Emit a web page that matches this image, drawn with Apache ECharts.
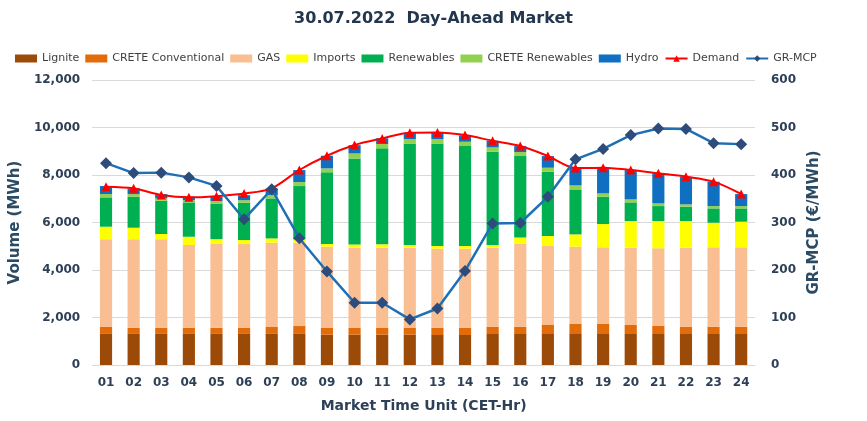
<!DOCTYPE html>
<html><head><meta charset="utf-8">
<script src="https://cdn.jsdelivr.net/npm/echarts@6/dist/echarts.min.js"></script>
<style>html,body{margin:0;padding:0;background:#fff}#c{width:867px;height:421px}</style>
</head><body><div id="c"></div>
<script>
const hours = ['01','02','03','04','05','06','07','08','09','10','11','12','13','14','15','16','17','18','19','20','21','22','23','24'];
const lignite = [1310,1310,1310,1310,1310,1310,1310,1310,1277,1277,1277,1277,1263,1263,1305,1305,1305,1305,1305,1305,1305,1305,1305,1305];
const creteConv = [290,260,260,260,260,260,290,330,295,295,295,295,308,308,308,308,379,421,421,379,351,308,308,308];
const gas = [3690,3720,3720,3480,3550,3520,3550,3510,3410,3380,3370,3368,3326,3326,3326,3508,3325,3254,3227,3255,3255,3326,3340,3340];
const imports = [533,490,225,350,180,170,180,140,113,126,140,112,112,112,112,252,421,520,982,1122,1150,1122,1038,1080];
const renewables = [1235,1305,1400,1445,1500,1570,1685,2245,3016,3620,4041,4279,4321,4209,3928,3424,2707,1894,1150,786,631,603,603,561];
const creteRen = [140,112,100,100,100,110,140,168,168,210,182,182,182,182,183,168,169,168,141,126,113,99,98,98];
const hydro = [337,240,180,140,180,210,280,505,533,350,238,260,270,270,280,250,490,740,1080,1234,1262,1164,1025,505];
const demand = [7510,7440,7160,7060,7110,7220,7440,8210,8810,9260,9540,9780,9790,9680,9440,9220,8800,8290,8310,8210,8070,7930,7720,7200];
const mcp = [425,404,405,395,377,307,370,267,197,131,131,96,119,198,298,299,354,433,455,484,498,497,467,465];

const txt = '#2E4057';
const font = '"DejaVu Sans", sans-serif';
function bar(name, data, color) {
  return {name, type:'bar', stack:'v', data, barWidth:'44%', itemStyle:{color}};
}
const chart = echarts.init(document.getElementById('c'));
chart.setOption({
  animation:false,
  title:{text:'30.07.2022  Day-Ahead Market', left:'center', top:6,
    textStyle:{fontFamily:font, fontWeight:'bold', fontSize:16, color:'#22364D'}},
  legend:{top:48, left:10, itemWidth:22, itemHeight:8, itemGap:6,
    textStyle:{fontFamily:font, fontSize:11, color:'#404040'},
    data:[
      {name:'Lignite', icon:'rect'},{name:'CRETE Conventional', icon:'rect'},{name:'GAS', icon:'rect'},
      {name:'Imports', icon:'rect'},{name:'Renewables', icon:'rect'},{name:'CRETE Renewables', icon:'rect'},
      {name:'Hydro', icon:'rect'},'Demand','GR-MCP']},
  grid:{left:89, right:112, top:80, bottom:56},
  xAxis:{type:'category', data:hours,
    axisLine:{show:true, lineStyle:{color:'#D9D9D9'}}, axisTick:{show:false},
    axisLabel:{fontFamily:font, fontWeight:'bold', fontSize:12, color:txt, margin:12},
    name:'Market Time Unit (CET-Hr)', nameLocation:'middle', nameGap:34,
    nameTextStyle:{fontFamily:font, fontWeight:'bold', fontSize:14, color:txt}},
  yAxis:[
    {type:'value', min:0, max:12000, interval:2000,
      axisLabel:{fontFamily:font, fontWeight:'bold', fontSize:12, color:txt, margin:12,
        formatter:v=>v.toLocaleString('en-US')},
      splitLine:{lineStyle:{color:'#D9D9D9'}}, axisLine:{show:false}, axisTick:{show:false},
      name:'Volume (MWh)', nameLocation:'middle', nameGap:54,
      nameTextStyle:{fontFamily:font, fontWeight:'bold', fontSize:15, color:'#2B4A63'}},
    {type:'value', min:0, max:600, interval:100,
      axisLabel:{fontFamily:font, fontWeight:'bold', fontSize:12, color:txt, margin:16},
      splitLine:{show:false}, axisLine:{show:false}, axisTick:{show:false},
      name:'GR-MCP (€/MWh)', nameLocation:'middle', nameGap:52,
      nameTextStyle:{fontFamily:font, fontWeight:'bold', fontSize:15, color:'#2B4A63'}}
  ],
  series:[
    bar('Lignite', lignite, '#9C4A08'),
    bar('CRETE Conventional', creteConv, '#E26B0A'),
    bar('GAS', gas, '#F9BF93'),
    bar('Imports', imports, '#FFFF00'),
    bar('Renewables', renewables, '#00B050'),
    bar('CRETE Renewables', creteRen, '#92D050'),
    bar('Hydro', hydro, '#0F6FC0'),
    {name:'Demand', type:'line', data:demand, smooth:0.3, symbol:'triangle', symbolSize:9,
      lineStyle:{color:'#FF0000', width:2}, itemStyle:{color:'#FF0000'}, z:5},
    {name:'GR-MCP', type:'line', yAxisIndex:1, data:mcp, symbol:'diamond', symbolSize:12,
      lineStyle:{color:'#1F6FB5', width:2.5}, itemStyle:{color:'#2D4B7B'}, z:6}
  ]
});
</script></body></html>
